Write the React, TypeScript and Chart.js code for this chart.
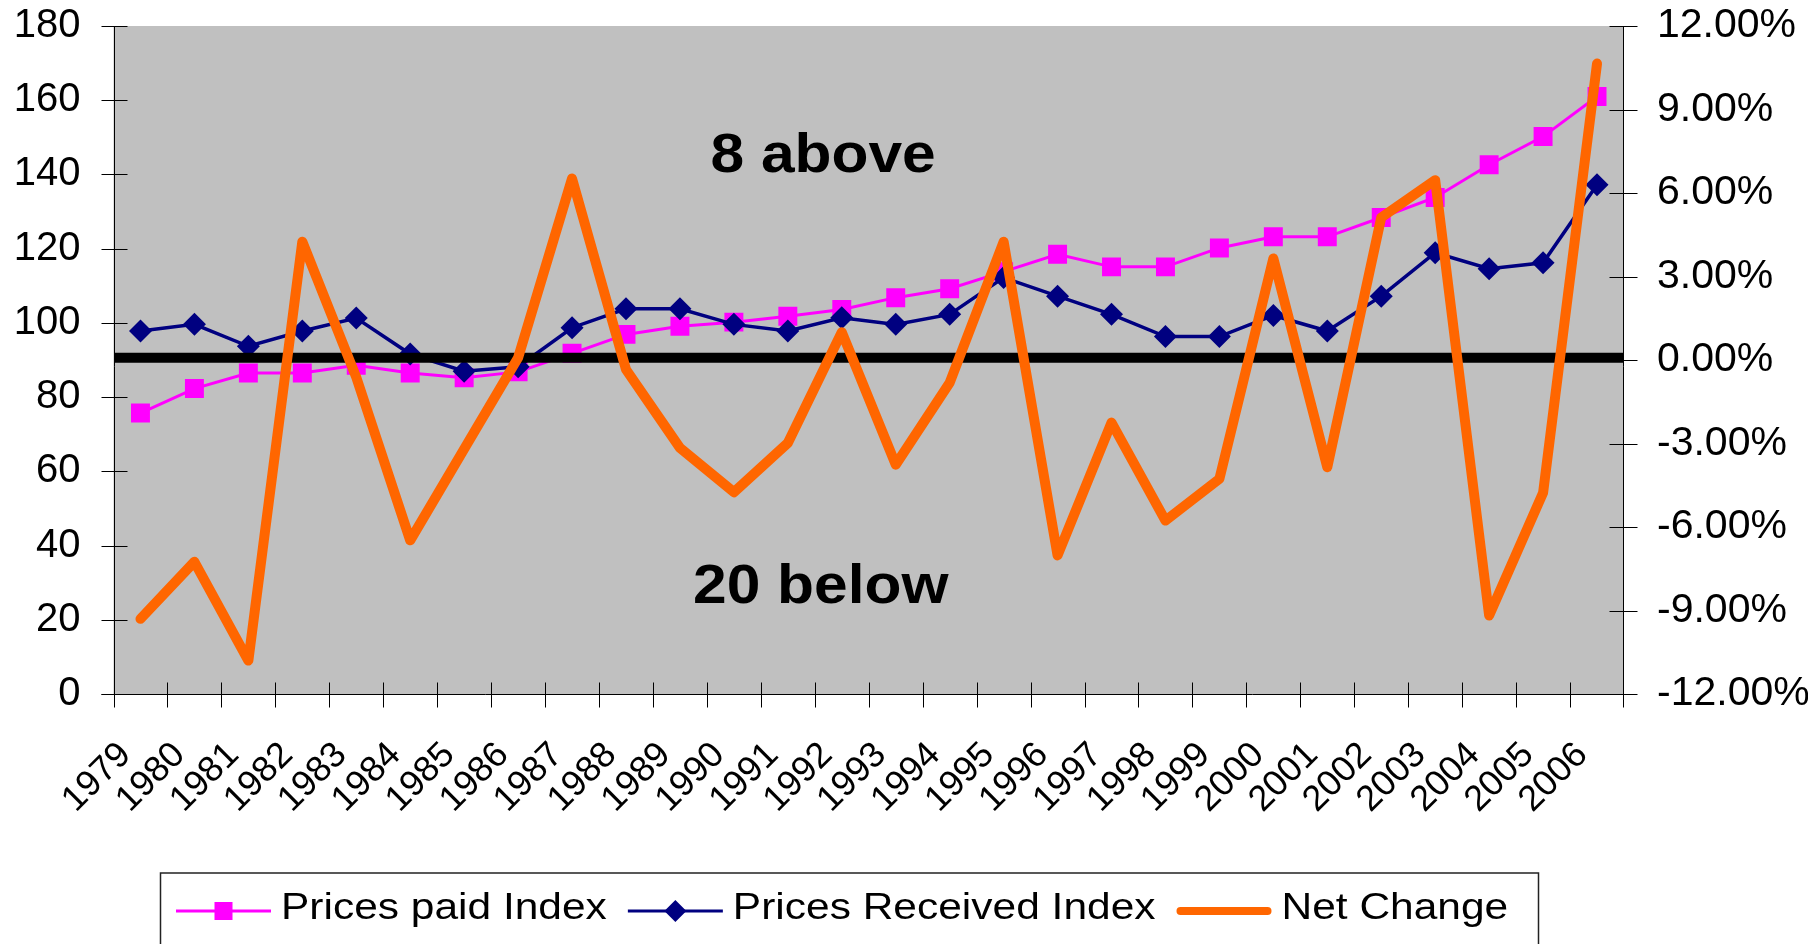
import React, { useEffect, useRef } from "react";
import { Chart, registerables } from "chart.js";

Chart.register(...registerables);

const years = [
  "1979", "1980", "1981", "1982", "1983", "1984", "1985", "1986", "1987", "1988",
  "1989", "1990", "1991", "1992", "1993", "1994", "1995", "1996", "1997", "1998",
  "1999", "2000", "2001", "2002", "2003", "2004", "2005", "2006",
];

const pricesPaidIndex = [
  75.7, 82.3, 86.5, 86.5, 88.6, 86.5, 85.2, 86.8, 91.8, 96.9,
  99.1, 100.2, 101.8, 103.6, 106.8, 109.2, 113.8, 118.5, 115.1, 115.1,
  120.2, 123.2, 123.2, 128.4, 133.8, 142.6, 150.2, 161.0,
];

const pricesReceivedIndex = [
  97.8, 99.6, 93.7, 97.8, 101.3, 91.6, 87.0, 88.2, 98.7, 103.8,
  103.8, 99.6, 97.8, 101.4, 99.6, 102.3, 112.2, 107.2, 102.3, 96.3,
  96.3, 102.0, 97.8, 107.2, 118.9, 114.6, 116.2, 137.2,
];

// Net change, in percent (right axis)
const netChangePct = [
  -9.3, -7.25, -10.8, 4.25, -0.62, -6.48, -3.2, 0.08, 6.52, -0.34,
  -3.16, -4.75, -2.98, 1.0, -3.76, -0.82, 4.25, -7.02, -2.25, -5.77,
  -4.27, 3.65, -3.85, 5.12, 6.46, -9.18, -4.77, 10.65,
];

const leftAxisRange = { min: 0, max: 180, step: 20 };
const rightAxisRange = { min: -12, max: 12, step: 3 };
const baselinePct = 0.08; // thick black reference line (right axis)

const seriesNames = ["Prices paid Index", "Prices Received Index", "Net Change"];
const notes = [
  { text: "8 above", x: 702.5, y: 163.7 },
  { text: "20 below", x: 685, y: 594.7 },
];

const FONT = "'Liberation Sans', Arial, Helvetica, sans-serif";

const decorPlugin = {
  id: "decor",
  beforeDraw(chart: any) {
    const { ctx, chartArea: a } = chart;
    ctx.save();
    ctx.fillStyle = "#C0C0C0";
    ctx.fillRect(a.left, a.top, a.right - a.left, a.bottom - a.top);
    ctx.restore();
  },
  beforeDatasetsDraw(chart: any) {
    const { ctx, chartArea: a, scales } = chart;
    const yl = scales.y;
    const yr = scales.y1;
    const x = scales.x;
    ctx.save();
    ctx.strokeStyle = "#000";
    ctx.lineWidth = 1;
    ctx.beginPath();
    const L = Math.round(a.left) + 0.5;
    const R = Math.round(a.right) - 0.5;
    const B = Math.round(a.bottom) + 0.5;
    // axis lines
    ctx.moveTo(L, a.top);
    ctx.lineTo(L, B + 13);
    ctx.moveTo(R, a.top);
    ctx.lineTo(R, B + 13);
    ctx.moveTo(L - 13, B);
    ctx.lineTo(R + 13, B);
    // left ticks
    yl.ticks.forEach((t: any) => {
      const py = Math.round(yl.getPixelForValue(t.value)) + 0.5;
      ctx.moveTo(L - 13, py);
      ctx.lineTo(L + 13, py);
    });
    // right ticks
    yr.ticks.forEach((t: any) => {
      const py = Math.round(yr.getPixelForValue(t.value)) + 0.5;
      ctx.moveTo(R - 14, py);
      ctx.lineTo(R + 14, py);
    });
    // category boundary ticks
    const n = x.ticks.length;
    const step = n > 1 ? x.getPixelForValue(1) - x.getPixelForValue(0) : a.right - a.left;
    for (let k = 1; k < n; k++) {
      const px = Math.round(x.getPixelForValue(k) - step / 2) + 0.5;
      ctx.moveTo(px, B - 12);
      ctx.lineTo(px, B + 13);
    }
    ctx.stroke();
    ctx.restore();
  },
  afterDatasetDraw(chart: any, args: any) {
    if (args.index !== 1) return;
    const { ctx, chartArea: a, scales } = chart;
    const py = scales.y1.getPixelForValue(baselinePct);
    ctx.save();
    ctx.strokeStyle = "#000";
    ctx.lineWidth = 10;
    ctx.lineCap = "butt";
    ctx.beginPath();
    ctx.moveTo(a.left + 1, py);
    ctx.lineTo(a.right, py);
    ctx.stroke();
    ctx.restore();
  },
  afterDraw(chart: any) {
    const { ctx } = chart;
    // annotations
    ctx.save();
    ctx.fillStyle = "#000";
    ctx.font = `bold 56px ${FONT}`;
    ctx.textAlign = "left";
    ctx.textBaseline = "alphabetic";
    notes.forEach((n) => {
      ctx.save();
      ctx.translate(n.x, n.y);
      ctx.scale(1.08, 1);
      ctx.fillText(n.text, 0, 0);
      ctx.restore();
    });
    ctx.restore();

    // legend
    ctx.save();
    ctx.strokeStyle = "#222";
    ctx.lineWidth = 1.5;
    ctx.strokeRect(152.5, 865, 1378, 120);
    ctx.font = `36px ${FONT}`;
    ctx.textBaseline = "alphabetic";
    ctx.textAlign = "left";
    const markerY = 903;
    const textY = 911;
    let cx = 168;
    chart.data.datasets.forEach((ds: any) => {
      const len = 95;
      ctx.strokeStyle = ds.borderColor;
      ctx.lineWidth = ds.legendLineWidth;
      ctx.lineCap = ds.pointRadius ? "butt" : "round";
      ctx.beginPath();
      ctx.moveTo(cx + (ds.pointRadius ? 0 : 4), markerY);
      ctx.lineTo(cx + len - (ds.pointRadius ? 0 : 4), markerY);
      ctx.stroke();
      const mx = cx + len / 2;
      ctx.fillStyle = ds.borderColor;
      if (ds.pointStyle === "rect") {
        ctx.fillRect(mx - 9, markerY - 9, 18, 18);
      } else if (ds.pointStyle === "rectRot") {
        ctx.beginPath();
        ctx.moveTo(mx, markerY - 11);
        ctx.lineTo(mx + 11, markerY);
        ctx.lineTo(mx, markerY + 11);
        ctx.lineTo(mx - 11, markerY);
        ctx.closePath();
        ctx.fill();
      }
      const tx = cx + len + 10;
      const w = ctx.measureText(ds.label).width * 1.18;
      ctx.fillStyle = "#000";
      ctx.save();
      ctx.translate(tx, textY);
      ctx.scale(1.18, 1);
      ctx.fillText(ds.label, 0, 0);
      ctx.restore();
      cx = tx + w + 21;
    });
    ctx.restore();
  },
};

export default function App() {
  const canvasRef = useRef<HTMLCanvasElement | null>(null);

  useEffect(() => {
    const canvas = canvasRef.current;
    if (!canvas) return;
    const chart = new Chart(canvas, {
      type: "line",
      data: {
        labels: years,
        datasets: [
          {
            label: seriesNames[0],
            data: pricesPaidIndex,
            yAxisID: "y",
            borderColor: "#FF00FF",
            backgroundColor: "#FF00FF",
            borderWidth: 3,
            pointStyle: "rect",
            pointRadius: 13.4,
            pointBorderWidth: 0,
            pointBackgroundColor: "#FF00FF",
            legendLineWidth: 3,
            order: 3,
          } as any,
          {
            label: seriesNames[1],
            data: pricesReceivedIndex,
            yAxisID: "y",
            borderColor: "#000080",
            backgroundColor: "#000080",
            borderWidth: 3.5,
            pointStyle: "rectRot",
            pointRadius: 11.5,
            pointBorderWidth: 0,
            pointBackgroundColor: "#000080",
            legendLineWidth: 3,
            order: 2,
          } as any,
          {
            label: seriesNames[2],
            data: netChangePct,
            yAxisID: "y1",
            borderColor: "#FF6600",
            backgroundColor: "#FF6600",
            borderWidth: 10,
            borderJoinStyle: "round",
            borderCapStyle: "round",
            pointRadius: 0,
            pointHoverRadius: 0,
            legendLineWidth: 8,
            order: 1,
          } as any,
        ],
      },
      options: {
        animation: false,
        responsive: false,
        devicePixelRatio: 1,
        events: [],
        layout: { padding: { top: 18, left: 0, right: 0, bottom: 0 } },
        plugins: {
          legend: { display: false },
          tooltip: { enabled: false },
          title: { display: false },
        },
        scales: {
          x: {
            type: "category",
            offset: true,
            grid: { display: false, drawTicks: false },
            border: { display: false },
            ticks: {
              autoSkip: false,
              minRotation: 45,
              maxRotation: 45,
              padding: 40,
              labelOffset: -15,
              color: "#000",
              font: { family: FONT, size: 36 },
            },
            afterFit(s: any) {
              s.height = 250;
              s.paddingLeft = 0;
              s.paddingRight = 0;
            },
          },
          y: {
            type: "linear",
            position: "left",
            min: leftAxisRange.min,
            max: leftAxisRange.max,
            grid: { display: false, drawTicks: false },
            border: { display: false },
            ticks: {
              stepSize: leftAxisRange.step,
              padding: 33,
              color: "#000",
              font: { family: FONT, size: 40 },
            },
            afterFit(s: any) {
              s.width = 105.5;
              s.paddingTop = 0;
              s.paddingBottom = 0;
            },
          },
          y1: {
            type: "linear",
            position: "right",
            min: rightAxisRange.min,
            max: rightAxisRange.max,
            grid: { display: false, drawTicks: false },
            border: { display: false },
            ticks: {
              stepSize: rightAxisRange.step,
              padding: 33,
              color: "#000",
              font: { family: FONT, size: 41 },
              callback: (v: any) => Number(v).toFixed(2) + "%",
            },
            afterFit(s: any) {
              s.width = 184;
              s.paddingTop = 0;
              s.paddingBottom = 0;
            },
          },
        },
      } as any,
      plugins: [decorPlugin],
    });
    return () => chart.destroy();
  }, []);

  return (
    <div style={{ width: 1800, height: 936 }}>
      <canvas ref={canvasRef} width={1800} height={936} style={{ display: "block" }} />
    </div>
  );
}
